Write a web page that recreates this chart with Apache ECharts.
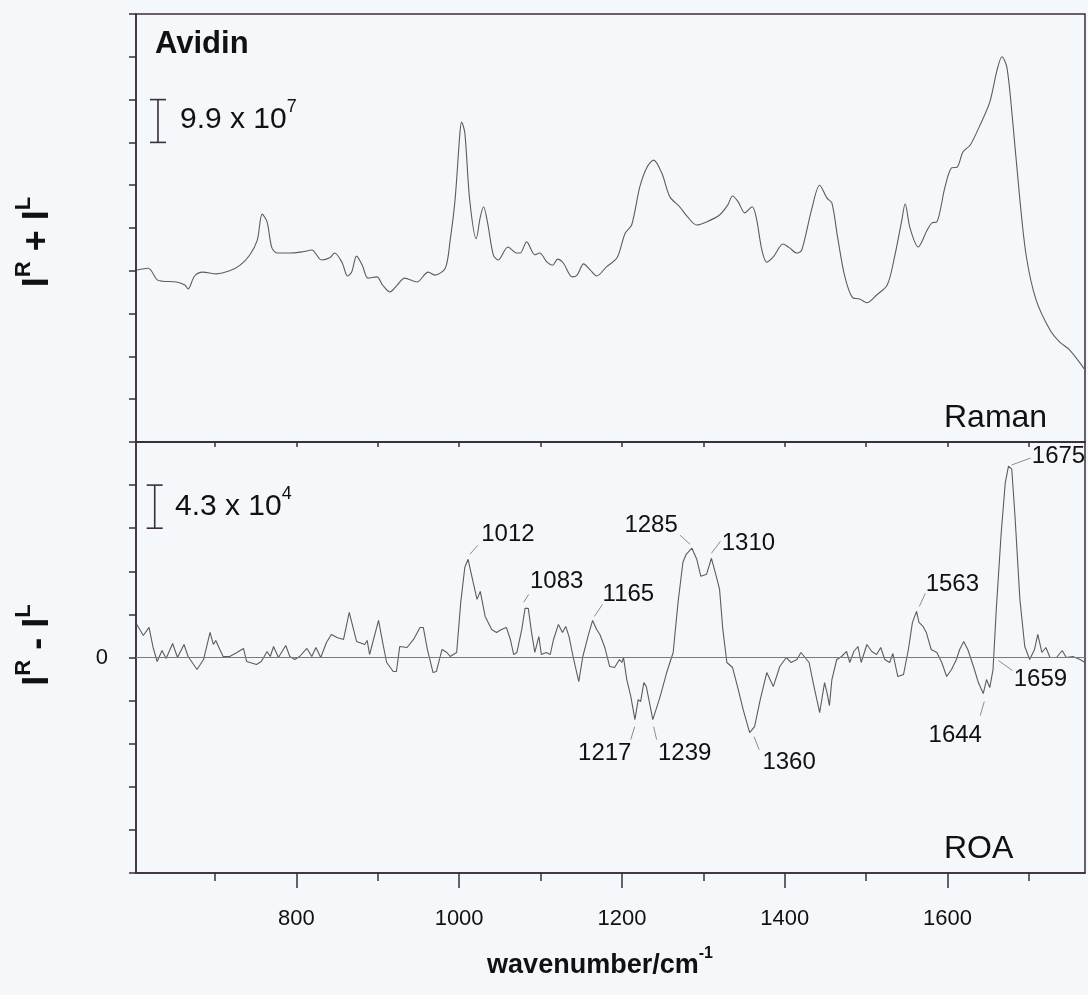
<!DOCTYPE html>
<html>
<head>
<meta charset="utf-8">
<title>Avidin Raman / ROA</title>
<script src="https://cdn.jsdelivr.net/npm/echarts@6/dist/echarts.min.js"></script>
<style>
  html, body { margin: 0; padding: 0; background: #f5f8fb; }
  #chart { width: 1088px; height: 995px; }
</style>
</head>
<body>
<div id="chart"></div>
<script>
// Raman spectrum, I^R + I^L (units of 10^7)
var ramanWn = [604,618,629,636,653,663,667,675,685,702,
  718,731,743,752,758,764,770,777,792,808,
  819,831,841,847,856,863,868,874,881,888,
  899,906,915,924,933,948,962,970,983,989,
  995,1001,1003,1007,1013,1021,1026,1030,1035,1042,
  1048,1060,1071,1075,1083,1093,1099,1108,1115,1121,
  1128,1139,1145,1153,1161,1169,1181,1194,1204,1212,
  1222,1231,1239,1249,1259,1271,1281,1292,1304,1320,
  1330,1336,1343,1351,1360,1365,1372,1378,1386,1398,
  1406,1415,1421,1433,1443,1452,1458,1465,1474,1484,
  1492,1501,1513,1526,1535,1544,1548,1554,1564,1575,
  1581,1587,1597,1605,1612,1619,1628,1640,1652,1661,
  1667,1673,1680,1689,1697,1709,1726,1738,1750,1769];
var ramanI = [39.8,40.2,37.5,37.2,37.0,36.3,35.4,38.4,39.3,38.9,
  39.6,40.9,43.3,46.7,52.7,50.9,44.9,43.7,43.7,44.0,
  44.4,42.1,42.6,43.7,41.6,38.4,39.3,43.0,40.9,37.9,
  38.2,36.3,34.7,36.3,37.9,37.0,39.3,38.6,40.2,46.7,
  56.0,71.5,74.0,71.5,56.0,47.0,52.0,54.4,50.7,43.3,
  42.1,45.1,43.7,43.7,46.3,43.3,43.7,41.6,40.9,42.3,
  41.4,38.2,38.6,41.2,39.8,38.4,40.5,42.6,48.3,50.2,
  59.0,63.6,65.2,62.2,56.7,54.4,52.0,50.2,50.9,52.5,
  54.8,56.9,55.5,53.0,54.4,52.0,44.4,41.6,42.8,45.8,
  44.9,43.7,44.4,53.7,59.4,56.4,55.3,47.4,38.2,33.3,
  33.1,32.2,34.0,36.3,42.8,51.4,55.1,49.5,45.1,49.0,
  50.7,50.9,59.0,63.4,63.6,67.1,68.7,73.3,78.6,86.1,
  89.1,86.7,74.5,56.0,42.8,32.8,25.9,23.1,21.3,16.7];

// ROA spectrum, I^R - I^L (units of 10^4)
var roaWn = [604,612,619,624,629,635,640,648,654,662,
  667,678,686,694,698,701,706,710,718,727,
  735,739,751,757,764,768,772,778,787,792,
  798,804,813,819,824,830,837,843,850,858,
  865,874,884,887,890,901,907,911,919,923,
  927,936,944,952,956,961,968,972,979,985,
  989,997,1002,1007,1011,1017,1022,1026,1032,1040,
  1046,1052,1058,1063,1067,1071,1077,1081,1085,1089,
  1093,1098,1101,1107,1112,1116,1122,1127,1131,1135,
  1140,1147,1152,1159,1164,1169,1173,1179,1185,1191,
  1197,1200,1202,1206,1211,1216,1220,1223,1227,1230,
  1238,1247,1255,1263,1269,1275,1279,1286,1292,1297,
  1304,1310,1316,1320,1324,1329,1336,1343,1349,1357,
  1363,1370,1378,1386,1394,1402,1408,1415,1420,1425,
  1430,1435,1439,1443,1446,1449,1452,1455,1458,1464,
  1470,1476,1480,1485,1490,1494,1501,1507,1513,1518,
  1523,1529,1533,1539,1546,1552,1557,1562,1565,1570,
  1574,1580,1587,1593,1599,1605,1611,1615,1620,1625,
  1632,1638,1644,1648,1652,1656,1660,1666,1671,1675,
  1679,1683,1689,1695,1701,1707,1711,1716,1721,1726,
  1734,1741,1746,1754,1763,1769];
var roaVal = [3.3,2.2,3.0,1.0,-0.4,0.7,-0.1,1.4,0,1.3,
  0.1,-1.2,-0.2,2.5,1.3,1.7,0.8,0.1,0.1,0.5,
  0.9,-0.4,-0.7,-0.4,0.6,0.1,1.1,0,1.2,0.1,
  -0.2,0.1,0.9,0.1,1.0,0,1.5,2.3,2.0,1.8,
  4.5,1.6,1.3,1.7,0.3,3.7,1.1,-0.5,-1.4,-1.4,
  1.1,1.0,1.8,3.0,3.0,0.8,-1.5,-1.4,0.8,0.5,
  0.1,0.5,5.5,9.0,9.8,7.6,5.8,6.6,4.1,2.8,
  2.5,2.8,3.0,1.8,0.3,0.5,2.8,4.9,4.9,2.5,
  0.5,2.1,0.3,0.5,0.3,1.8,3.3,2.5,3.1,2.1,
  0.1,-2.4,0.1,2.3,3.7,2.8,2.3,1.0,-0.9,-1.0,
  -0.2,-0.5,0,-2.2,-3.9,-6.2,-4.2,-4.4,-2.5,-2.9,
  -6.2,-3.9,-1.5,0.5,5.5,9.5,10.3,10.9,9.8,8.1,
  8.3,9.9,8.1,6.8,2.8,-0.5,-1.0,-3.2,-5.2,-7.5,
  -6.9,-4.2,-1.5,-2.9,-0.9,0,-0.5,-0.2,0.5,0,
  -0.5,-2.5,-4.0,-5.5,-4.0,-2.5,-3.5,-4.8,-2.2,-0.2,
  0.1,0.6,-0.5,0.6,1.1,-0.5,1.3,0.6,0.3,1.0,
  -0.2,-0.5,0.4,-1.9,-1.7,0.8,3.5,4.6,3.5,3.1,
  2.5,0.8,0.5,-0.5,-1.9,-1.2,-0.2,0.8,1.6,0.8,
  -0.9,-2.5,-3.6,-2.2,-3.0,-1.2,4.8,12.4,17.4,19.1,
  18.8,14.1,5.8,1.1,-0.2,0.8,2.3,0.5,1.0,0,
  0,0.7,0,0.1,-0.2,-0.5];

// labelled ROA bands (wavenumber, height of the band)
var bandWn = [1012,1083,1165,1285,1310,1563,1675,1217,1239,1360,1644,1659];
var bandVal = [9.8,4.9,3.7,10.9,9.9,4.6,19.1,-6.2,-6.2,-7.5,-3.6,0];
// leader line [x1,y1,x2,y2] and label centre [x,y], px offsets from the band
var bandLayout = [
  [1,-5,9,-14,39,-25], [-3,-6,2,-14,30,-27], [1,-4,9,-16,35,-26],
  [-1,-4,-11,-13,-40,-23], [0,-5,9,-17,37,-15], [2,-5,8,-18,35,-27],
  [3,-1,22,-8,50,-10], [-1,7,-5,20,-31,34], [0,7,3,20,31,34],
  [2,4,7,17,37,30], [1,8,-3,22,-28,42], [3,3,17,13,45,22]
];

// x axis ticks
var xLabelValues = [800, 1000, 1200, 1400, 1600];
var xMinorValues = [700, 900, 1100, 1300, 1500, 1700];
var xAllTicks = [700, 800, 900, 1000, 1100, 1200, 1300, 1400, 1500, 1600, 1700];

// intensity scale bars: [wavenumber, from, to]
var ramanBar = [630, 69.3, 79.2];
var roaBar = [626, 12.9, 17.2];

var FONT = '"Liberation Sans", Arial, Helvetica, sans-serif';
var INK = '#3a2d3d';
var TXT = '#111111';
var CURVE = '#5c5c5c';

var chart = echarts.init(document.getElementById('chart'));

function renderBar(params, api) {
  var top = api.coord([api.value(0), api.value(2)]);
  var bot = api.coord([api.value(0), api.value(1)]);
  var w = 8;
  var st = { stroke: INK, lineWidth: 1.6 };
  return {
    type: 'group',
    children: [
      { type: 'line', shape: { x1: top[0], y1: top[1], x2: bot[0], y2: bot[1] }, style: st },
      { type: 'line', shape: { x1: top[0] - w, y1: top[1], x2: top[0] + w, y2: top[1] }, style: st },
      { type: 'line', shape: { x1: bot[0] - w, y1: bot[1], x2: bot[0] + w, y2: bot[1] }, style: st }
    ]
  };
}

function renderBand(params, api) {
  var i = params.dataIndex;
  var p = api.coord([api.value(0), api.value(1)]);
  var o = bandLayout[i];
  return {
    type: 'group',
    children: [
      {
        type: 'line',
        shape: { x1: p[0] + o[0], y1: p[1] + o[1], x2: p[0] + o[2], y2: p[1] + o[3] },
        style: { stroke: '#8c8c8c', lineWidth: 1 }
      },
      {
        type: 'text',
        x: p[0] + o[4],
        y: p[1] + o[5],
        style: {
          text: String(bandWn[i]),
          fill: TXT,
          fontSize: 24,
          fontFamily: FONT,
          align: 'center',
          verticalAlign: 'middle'
        }
      }
    ]
  };
}

var tickStyle = { color: INK, width: 1.5 };

var option = {
  backgroundColor: '#f5f8fb',
  animation: false,
  grid: [
    { left: 136, right: 3, top: 14, height: 428, show: true, borderColor: INK, borderWidth: 1.5 },
    { left: 136, right: 3, top: 442, height: 431, show: true, borderColor: INK, borderWidth: 1.5 }
  ],
  xAxis: [
    {
      gridIndex: 0, type: 'value', min: 603, max: 1769, position: 'bottom',
      axisLine: { show: true, onZero: false, lineStyle: tickStyle },
      axisTick: { show: true, inside: false, length: 5, customValues: xAllTicks, lineStyle: tickStyle },
      axisLabel: { show: false },
      splitLine: { show: false }
    },
    {
      gridIndex: 1, type: 'value', min: 603, max: 1769, position: 'bottom',
      axisLine: { show: true, onZero: false, lineStyle: tickStyle },
      axisTick: { show: true, inside: false, length: 15, customValues: xLabelValues, lineStyle: tickStyle },
      axisLabel: {
        show: true, customValues: xLabelValues, margin: 35,
        fontSize: 22, fontFamily: FONT, color: TXT,
        formatter: function (v) { return String(Math.round(v)); }
      },
      splitLine: { show: false }
    },
    {
      gridIndex: 1, type: 'value', min: 603, max: 1769, position: 'bottom',
      axisLine: { show: false, onZero: false },
      axisTick: { show: true, inside: false, length: 8, customValues: xMinorValues, lineStyle: tickStyle },
      axisLabel: { show: false },
      splitLine: { show: false }
    }
  ],
  yAxis: [
    {
      gridIndex: 0, type: 'value', min: 0, max: 99, interval: 9.9,
      axisLine: { show: true, onZero: false, lineStyle: tickStyle },
      axisTick: { show: true, inside: false, length: 7, lineStyle: tickStyle },
      axisLabel: { show: false },
      splitLine: { show: false }
    },
    {
      gridIndex: 1, type: 'value', min: -21.5, max: 21.5, interval: 4.3,
      axisLine: { show: true, onZero: false, lineStyle: tickStyle },
      axisTick: { show: true, inside: false, length: 7, lineStyle: tickStyle },
      axisLabel: {
        show: true, margin: 28, fontSize: 22, fontFamily: FONT, color: TXT,
        formatter: function (v) { return Math.abs(v) < 0.01 ? '0' : ''; }
      },
      splitLine: { show: false }
    }
  ],
  series: [
    {
      name: 'Raman', type: 'line', xAxisIndex: 0, yAxisIndex: 0,
      data: ramanWn.map(function (w, i) { return [w, ramanI[i]]; }),
      showSymbol: false, smooth: 0.3, silent: true,
      lineStyle: { color: CURVE, width: 1.1 }
    },
    {
      name: 'ROA', type: 'line', xAxisIndex: 1, yAxisIndex: 1,
      data: roaWn.map(function (w, i) { return [w, roaVal[i]]; }),
      showSymbol: false, smooth: false, silent: true,
      lineStyle: { color: CURVE, width: 1.1 },
      markLine: {
        silent: true, symbol: 'none', label: { show: false },
        lineStyle: { color: '#7a7a7a', width: 1, type: 'solid' },
        data: [{ yAxis: 0 }]
      }
    },
    {
      type: 'custom', xAxisIndex: 0, yAxisIndex: 0, silent: true,
      data: [ramanBar], renderItem: renderBar
    },
    {
      type: 'custom', xAxisIndex: 1, yAxisIndex: 1, silent: true,
      data: [roaBar], renderItem: renderBar
    },
    {
      type: 'custom', xAxisIndex: 1, yAxisIndex: 1, silent: true, clip: false,
      data: bandWn.map(function (w, i) { return [w, bandVal[i]]; }),
      renderItem: renderBand
    }
  ],
  graphic: [
    {
      type: 'text', x: 155, y: 44,
      style: { text: 'Avidin', fontSize: 31, fontWeight: 'bold', fontFamily: FONT, fill: TXT, verticalAlign: 'middle' }
    },
    {
      type: 'text', x: 180, y: 120,
      style: {
        text: '{m|9.9 x 10}{s|7}', verticalAlign: 'middle',
        rich: {
          m: { fontSize: 30, fontFamily: FONT, fill: TXT, lineHeight: 44 },
          s: { fontSize: 18, fontFamily: FONT, fill: TXT, verticalAlign: 'top' }
        }
      }
    },
    {
      type: 'text', x: 175, y: 507,
      style: {
        text: '{m|4.3 x 10}{s|4}', verticalAlign: 'middle',
        rich: {
          m: { fontSize: 30, fontFamily: FONT, fill: TXT, lineHeight: 44 },
          s: { fontSize: 18, fontFamily: FONT, fill: TXT, verticalAlign: 'top' }
        }
      }
    },
    {
      type: 'text', x: 944, y: 418,
      style: { text: 'Raman', fontSize: 32, fontFamily: FONT, fill: TXT, verticalAlign: 'middle' }
    },
    {
      type: 'text', x: 944, y: 849,
      style: { text: 'ROA', fontSize: 32, fontFamily: FONT, fill: TXT, verticalAlign: 'middle' }
    },
    {
      type: 'text', x: 38, y: 242, rotation: Math.PI / 2,
      style: {
        text: '{m|I}{s|R}{m| + I}{s|L}', align: 'center', verticalAlign: 'middle',
        rich: {
          m: { fontSize: 36, fontWeight: 'bold', fontFamily: FONT, fill: TXT, lineHeight: 50 },
          s: { fontSize: 22, fontWeight: 'bold', fontFamily: FONT, fill: TXT, verticalAlign: 'top' }
        }
      }
    },
    {
      type: 'text', x: 38, y: 645, rotation: Math.PI / 2,
      style: {
        text: '{m|I}{s|R}{m| - I}{s|L}', align: 'center', verticalAlign: 'middle',
        rich: {
          m: { fontSize: 36, fontWeight: 'bold', fontFamily: FONT, fill: TXT, lineHeight: 50 },
          s: { fontSize: 22, fontWeight: 'bold', fontFamily: FONT, fill: TXT, verticalAlign: 'top' }
        }
      }
    },
    {
      type: 'text', x: 600, y: 966,
      style: {
        text: '{m|wavenumber/cm}{s|-1}', align: 'center', verticalAlign: 'middle',
        rich: {
          m: { fontSize: 27, fontWeight: 'bold', fontFamily: FONT, fill: TXT, lineHeight: 40 },
          s: { fontSize: 16, fontWeight: 'bold', fontFamily: FONT, fill: TXT, verticalAlign: 'top' }
        }
      }
    }
  ]
};

chart.setOption(option);
</script>
</body>
</html>
